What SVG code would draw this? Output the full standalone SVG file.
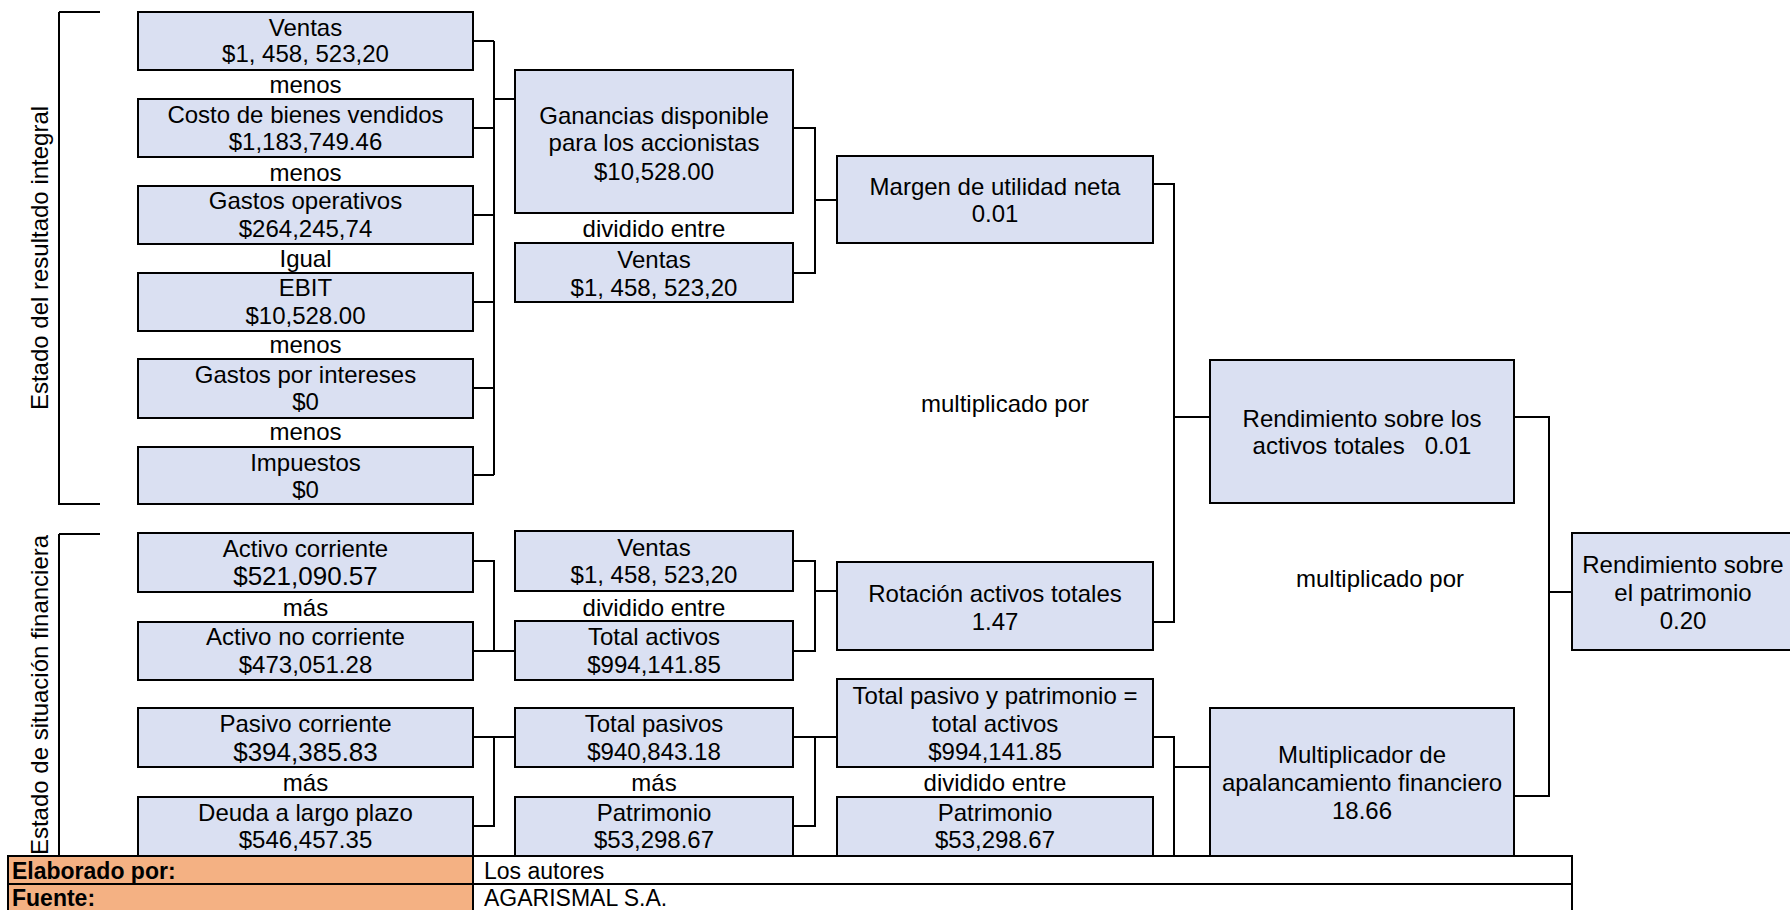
<svg xmlns="http://www.w3.org/2000/svg" width="1790" height="910" viewBox="0 0 1790 910">
<style>
.box{fill:#DAE0F2;stroke:#000;stroke-width:2}
.t{font-family:"Liberation Sans",Arial,sans-serif;font-size:24px;text-anchor:middle;fill:#000}
.big{font-size:26px}
.c{fill:none;stroke:#000;stroke-width:2}
.f{font-family:"Liberation Sans",Arial,sans-serif;font-size:23px;fill:#000}
.fb{font-weight:bold}
.or{fill:#F4B183;stroke:#000;stroke-width:2}
.wh{fill:#fff;stroke:#000;stroke-width:2}
</style>
<rect width="1790" height="910" fill="#fff"/>

<g id="connectors">
  <path class="c" d="M59,12 H100 M59,12 V504 H100"/>
  <path class="c" d="M59,534 H100 M59,534 V856"/>
  <path class="c" d="M473,41 H494 M473,128 H494 M473,215 H494 M473,302 H494 M473,388 H494 M473,475 H494 M494,41 V475 M494,99 H515"/>
  <path class="c" d="M793,128 H815 V273 H793 M815,200 H837"/>
  <path class="c" d="M1153,184 H1174 V622 H1153 M1174,417 H1210"/>
  <path class="c" d="M1514,417 H1549 V796 H1514 M1549,592 H1572"/>
  <path class="c" d="M473,561 H494 V651 M473,651 H515"/>
  <path class="c" d="M793,561 H815 V651 H793 M815,591 H837"/>
  <path class="c" d="M473,737 H515 M494,737 V826 H473"/>
  <path class="c" d="M793,737 H837 M815,737 V826 H793"/>
  <path class="c" d="M1153,737 H1174 V856 M1174,767 H1210"/>
</g>

<g id="label-resultado">
  <text class="t" transform="translate(48,258) rotate(-90)">Estado del resultado integral</text>
</g>
<g id="label-situacion">
  <text class="t" transform="translate(48,695) rotate(-90)">Estado de situación financiera</text>
</g>

<g id="ventas1"><rect class="box" x="138" y="12" width="335" height="58"/>
  <text class="t" x="305.5" y="36">Ventas</text><text class="t" x="305.5" y="62">$1, 458, 523,20</text></g>
<text class="t" x="305.5" y="93">menos</text>
<g id="costo"><rect class="box" x="138" y="99" width="335" height="58"/>
  <text class="t" x="305.5" y="123">Costo de bienes vendidos</text><text class="t" x="305.5" y="150">$1,183,749.46</text></g>
<text class="t" x="305.5" y="181">menos</text>
<g id="gastosop"><rect class="box" x="138" y="186" width="335" height="58"/>
  <text class="t" x="305.5" y="209">Gastos operativos</text><text class="t" x="305.5" y="237">$264,245,74</text></g>
<text class="t" x="305.5" y="267">Igual</text>
<g id="ebit"><rect class="box" x="138" y="273" width="335" height="58"/>
  <text class="t" x="305.5" y="296">EBIT</text><text class="t" x="305.5" y="324">$10,528.00</text></g>
<text class="t" x="305.5" y="353">menos</text>
<g id="gastosint"><rect class="box" x="138" y="359" width="335" height="59"/>
  <text class="t" x="305.5" y="383">Gastos por intereses</text><text class="t" x="305.5" y="410">$0</text></g>
<text class="t" x="305.5" y="440">menos</text>
<g id="impuestos"><rect class="box" x="138" y="447" width="335" height="57"/>
  <text class="t" x="305.5" y="471">Impuestos</text><text class="t" x="305.5" y="498">$0</text></g>

<g id="ganancias"><rect class="box" x="515" y="70" width="278" height="143"/>
  <text class="t" x="654" y="124">Ganancias disponible</text><text class="t" x="654" y="151">para los accionistas</text><text class="t" x="654" y="180">$10,528.00</text></g>
<text class="t" x="654" y="237">dividido entre</text>
<g id="ventas2"><rect class="box" x="515" y="243" width="278" height="59"/>
  <text class="t" x="654" y="268">Ventas</text><text class="t" x="654" y="296">$1, 458, 523,20</text></g>

<g id="margen"><rect class="box" x="837" y="156" width="316" height="87"/>
  <text class="t" x="995" y="195">Margen de utilidad neta</text><text class="t" x="995" y="222">0.01</text></g>

<text class="t" x="1005" y="412">multiplicado por</text>

<g id="roa"><rect class="box" x="1210" y="360" width="304" height="143"/>
  <text class="t" x="1362" y="427">Rendimiento sobre los</text><text class="t" x="1362" y="454" xml:space="preserve">activos totales   0.01</text></g>

<text class="t" x="1380" y="587">multiplicado por</text>

<g id="roe"><rect class="box" x="1572" y="533" width="230" height="117"/>
  <text class="t" x="1683" y="573">Rendimiento sobre</text><text class="t" x="1683" y="601">el patrimonio</text><text class="t" x="1683" y="629">0.20</text></g>

<g id="activocorr"><rect class="box" x="138" y="533" width="335" height="59"/>
  <text class="t" x="305.5" y="557">Activo corriente</text><text class="t big" x="305.5" y="585">$521,090.57</text></g>
<text class="t" x="305.5" y="616">más</text>
<g id="activonocorr"><rect class="box" x="138" y="622" width="335" height="58"/>
  <text class="t" x="305.5" y="645">Activo no corriente</text><text class="t" x="305.5" y="673">$473,051.28</text></g>

<g id="ventas3"><rect class="box" x="515" y="531" width="278" height="60"/>
  <text class="t" x="654" y="556">Ventas</text><text class="t" x="654" y="583">$1, 458, 523,20</text></g>
<text class="t" x="654" y="616">dividido entre</text>
<g id="totalactivos"><rect class="box" x="515" y="621" width="278" height="59"/>
  <text class="t" x="654" y="645">Total activos</text><text class="t" x="654" y="673">$994,141.85</text></g>

<g id="rotacion"><rect class="box" x="837" y="562" width="316" height="88"/>
  <text class="t" x="995" y="602">Rotación activos totales</text><text class="t" x="995" y="630">1.47</text></g>

<g id="pasivocorr"><rect class="box" x="138" y="708" width="335" height="59"/>
  <text class="t" x="305.5" y="732">Pasivo corriente</text><text class="t big" x="305.5" y="761">$394,385.83</text></g>
<text class="t" x="305.5" y="791">más</text>
<g id="deuda"><rect class="box" x="138" y="797" width="335" height="59"/>
  <text class="t" x="305.5" y="821">Deuda a largo plazo</text><text class="t" x="305.5" y="848">$546,457.35</text></g>

<g id="totalpasivos"><rect class="box" x="515" y="708" width="278" height="59"/>
  <text class="t" x="654" y="732">Total pasivos</text><text class="t" x="654" y="760">$940,843.18</text></g>
<text class="t" x="654" y="791">más</text>
<g id="patrimonio1"><rect class="box" x="515" y="797" width="278" height="59"/>
  <text class="t" x="654" y="821">Patrimonio</text><text class="t" x="654" y="848">$53,298.67</text></g>

<g id="totalpasivopatr"><rect class="box" x="837" y="679" width="316" height="88"/>
  <text class="t" x="995" y="704">Total pasivo y patrimonio =</text><text class="t" x="995" y="732">total activos</text><text class="t" x="995" y="760">$994,141.85</text></g>
<text class="t" x="995" y="791">dividido entre</text>
<g id="patrimonio2"><rect class="box" x="837" y="797" width="316" height="59"/>
  <text class="t" x="995" y="821">Patrimonio</text><text class="t" x="995" y="848">$53,298.67</text></g>

<g id="multiplicador"><rect class="box" x="1210" y="708" width="304" height="148"/>
  <text class="t" x="1362" y="763">Multiplicador de</text><text class="t" x="1362" y="791">apalancamiento financiero</text><text class="t" x="1362" y="819">18.66</text></g>

<g id="footer">
  <rect class="or" x="8" y="856" width="465" height="28"/>
  <rect class="or" x="8" y="884" width="465" height="30"/>
  <rect class="wh" x="473" y="856" width="1099" height="28"/>
  <rect class="wh" x="473" y="884" width="1099" height="30"/>
  <text class="f fb" x="12" y="879">Elaborado por:</text>
  <text class="f fb" x="12" y="906">Fuente:</text>
  <text class="f" x="484" y="879">Los autores</text>
  <text class="f" x="484" y="906">AGARISMAL S.A.</text>
</g>
</svg>
